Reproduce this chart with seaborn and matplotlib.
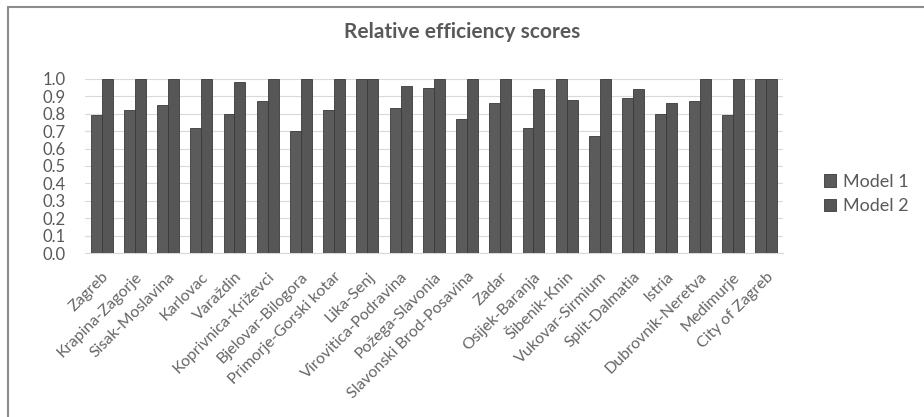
import pandas as pd
import numpy as np
import matplotlib
matplotlib.use('Agg')
import matplotlib.pyplot as plt
import seaborn as sns
from matplotlib.lines import Line2D

counties = ['Zagreb', 'Krapina-Zagorje', 'Sisak-Moslavina', 'Karlovac', 'Varaždin',
            'Koprivnica-Križevci', 'Bjelovar-Bilogora', 'Primorje-Gorski kotar', 'Lika-Senj',
            'Virovitica-Podravina', 'Požega-Slavonia', 'Slavonski Brod-Posavina', 'Zadar',
            'Osijek-Baranja', 'Šibenik-Knin', 'Vukovar-Sirmium', 'Split-Dalmatia', 'Istria',
            'Dubrovnik-Neretva', 'Medimurje', 'City of Zagreb']
model1 = [0.79, 0.82, 0.85, 0.72, 0.80, 0.87, 0.70, 0.82, 1.00, 0.83, 0.95,
          0.77, 0.86, 0.72, 1.00, 0.67, 0.89, 0.80, 0.87, 0.79, 1.00]
model2 = [1.00, 1.00, 1.00, 1.00, 0.98, 1.00, 1.00, 1.00, 1.00, 0.96, 1.00,
          1.00, 1.00, 0.94, 0.88, 1.00, 0.94, 0.86, 1.00, 1.00, 1.00]
yticks = [0.0, 0.1, 0.2, 0.3, 0.4, 0.5, 0.6, 0.7, 0.8, 0.9, 1.0]

df = pd.DataFrame({'County': counties * 2,
                   'Score': model1 + model2,
                   'Model': ['Model 1'] * len(counties) + ['Model 2'] * len(counties)})

sns.set_style('white')
plt.rcParams['font.family'] = ['Lato', 'DejaVu Sans']
grey_txt = '#595959'

fig = plt.figure(figsize=(9.24, 4.17), dpi=100)
ax = fig.add_axes([0.092, 0.393, 0.755, 0.418])

sns.barplot(data=df, x='County', y='Score', hue='Model', order=counties,
            palette=['#5b5b5b', '#565656'], width=0.66, saturation=1,
            edgecolor='#3a3a3a', linewidth=0.6, ax=ax, zorder=3)

ax.set_ylim(0, 1.0)
ax.set_xlim(-0.5, len(counties) - 0.5)
ax.set_yticks(yticks)
ax.set_yticklabels([f'{v:.1f}' for v in yticks], color=grey_txt, fontsize=12)
ax.yaxis.grid(True, color='#d9d9d9', linewidth=0.8, zorder=0)
ax.set_axisbelow(True)
for s in ax.spines.values():
    s.set_visible(False)
ax.spines['bottom'].set_visible(True)
ax.spines['bottom'].set_color('#d9d9d9')
ax.tick_params(axis='y', length=0, pad=14)
ax.tick_params(axis='x', length=0, pad=12)
ax.set_xticks(range(len(counties)))
ax.set_xticklabels(counties, rotation=45, ha='right', rotation_mode='anchor',
                   color='#666666', fontsize=11.5)
ax.set_xlabel('')
ax.set_ylabel('')

ax.legend(loc='center left', bbox_to_anchor=(0.874, 0.535), bbox_transform=fig.transFigure,
          frameon=False, fontsize=13, handlelength=0.65, handleheight=0.65,
          handletextpad=0.4, labelspacing=0.45, labelcolor=grey_txt)

fig.text(0.5, 0.923, 'Relative efficiency scores', ha='center', va='center',
         fontsize=15, fontweight='bold', color=grey_txt)

# frame lines (top and left only)
fig.add_artist(Line2D([0.009, 1.0], [0.983, 0.983], transform=fig.transFigure,
                      color='#8c8c8c', linewidth=1.5))
fig.add_artist(Line2D([0.009, 0.009], [0.0, 0.983], transform=fig.transFigure,
                      color='#8c8c8c', linewidth=1.5))

fig.savefig('out.png', dpi=100)
